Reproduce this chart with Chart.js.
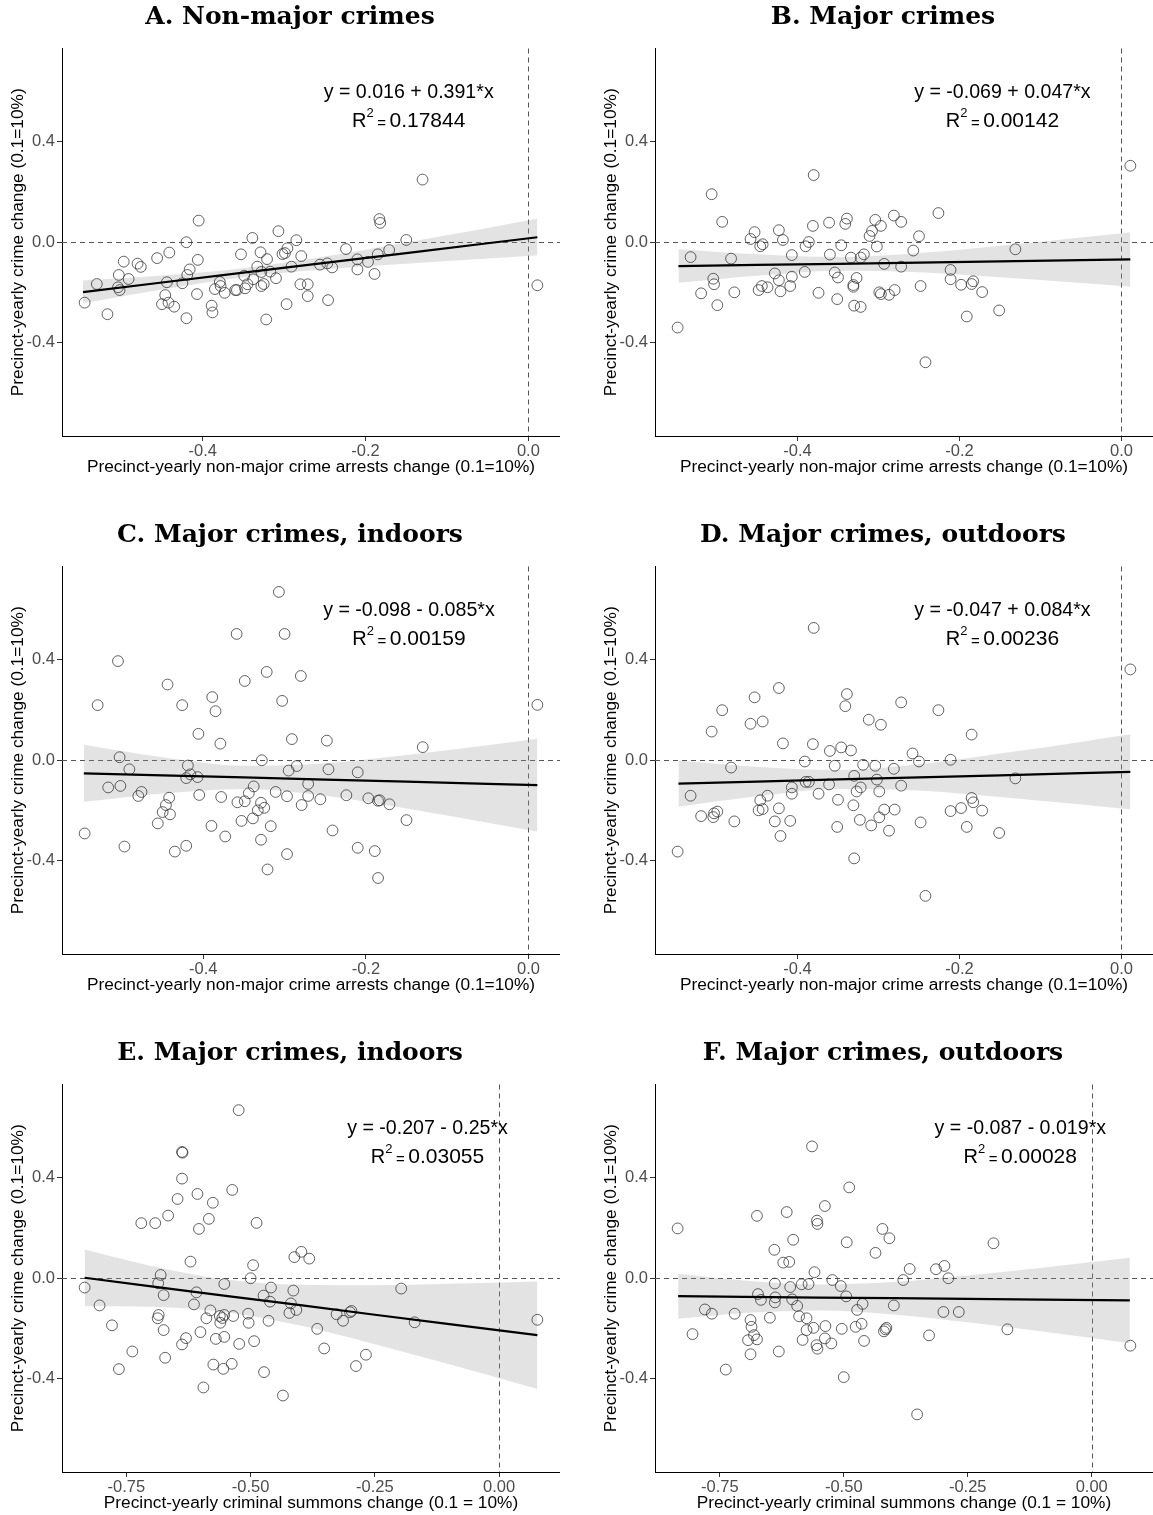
<!DOCTYPE html>
<html>
<head>
<meta charset="utf-8">
<script src="https://cdn.jsdelivr.net/npm/chart.js@4.4.1/dist/chart.umd.min.js"></script>
<style>
  html, body { margin:0; padding:0; background:#fff; width:1153px; height:1515px; overflow:hidden; position:relative; }
  canvas { position:absolute; }
</style>
</head>
<body>
<canvas id="cA" width="560" height="479" style="left:0px;top:0px"></canvas>
<canvas id="cB" width="560" height="479" style="left:593px;top:0px"></canvas>
<canvas id="cC" width="560" height="479" style="left:0px;top:518px"></canvas>
<canvas id="cD" width="560" height="479" style="left:593px;top:518px"></canvas>
<canvas id="cE" width="560" height="479" style="left:0px;top:1036px"></canvas>
<canvas id="cF" width="560" height="479" style="left:593px;top:1036px"></canvas>
<script>
// ---------------- DATA ----------------
const titles = ["A. Non-major crimes","B. Major crimes","C. Major crimes, indoors","D. Major crimes, outdoors","E. Major crimes, indoors","F. Major crimes, outdoors"];
const xTitleArrests = "Precinct-yearly non-major crime arrests change (0.1=10%)";
const xTitleSummons = "Precinct-yearly criminal summons change (0.1 = 10%)";
const yTitle = "Precinct-yearly crime change (0.1=10%)";

const yTicks = [-0.4, 0, 0.4];
const yTickLabels = ["-0.4", "0.0", "0.4"];
const xTicksArrests = [-0.4, -0.2, 0];
const xTickLabelsArrests = ["-0.4", "-0.2", "0.0"];
const xTicksSummons = [-0.75, -0.5, -0.25, 0];
const xTickLabelsSummons = ["-0.75", "-0.50", "-0.25", "0.00"];
const yLimits = [-0.77, 0.77];

const equations = ["y = 0.016 + 0.391*x","y = -0.069 + 0.047*x","y = -0.098 - 0.085*x","y = -0.047 + 0.084*x","y = -0.207 - 0.25*x","y = -0.087 - 0.019*x"];
const r2Values = ["0.17844","0.00142","0.00159","0.00236","0.03055","0.00028"];

// points [x, y]
const pointsA = [[-0.545,-0.240],[-0.530,-0.166],[-0.517,-0.286],[-0.504,-0.179],[-0.502,-0.190],[-0.503,-0.130],[-0.497,-0.077],[-0.491,-0.146],[-0.480,-0.085],[-0.476,-0.098],
[-0.456,-0.063],[-0.441,-0.041],[-0.446,-0.210],[-0.450,-0.246],[-0.442,-0.240],[-0.435,-0.256],[-0.444,-0.159],[-0.425,-0.163],[-0.420,-0.302],[-0.420,0.000],
[-0.419,-0.130],[-0.416,-0.108],[-0.406,-0.070],[-0.405,0.086],[-0.407,-0.206],[-0.389,-0.252],[-0.388,-0.279],[-0.385,-0.186],[-0.379,-0.158],[-0.378,-0.174],
[-0.373,-0.201],[-0.360,-0.190],[-0.358,-0.190],[-0.353,-0.048],[-0.349,-0.133],[-0.348,-0.183],[-0.345,-0.167],[-0.339,0.017],[-0.338,-0.147],[-0.333,-0.097],
[-0.329,-0.040],[-0.328,-0.118],[-0.328,-0.174],[-0.325,-0.166],[-0.322,-0.307],[-0.321,-0.067],[-0.317,-0.117],[-0.310,-0.143],[-0.307,0.044],[-0.302,-0.047],
[-0.299,-0.043],[-0.296,-0.024],[-0.297,-0.246],[-0.291,-0.097],[-0.285,0.008],[-0.280,-0.167],[-0.279,-0.055],[-0.271,-0.167],[-0.271,-0.214],[-0.256,-0.089],
[-0.247,-0.084],[-0.241,-0.100],[-0.246,-0.230],[-0.224,-0.027],[-0.210,-0.068],[-0.210,-0.108],[-0.197,-0.078],[-0.189,-0.126],[-0.185,-0.048],[-0.183,0.092],
[-0.182,0.077],[-0.171,-0.031],[-0.150,0.009],[-0.130,0.249],[0.011,-0.171]];

const pointsB = [[-0.548,-0.339],[-0.532,-0.059],[-0.506,0.191],[-0.504,-0.145],[-0.503,-0.167],[-0.519,-0.203],[-0.499,-0.250],[-0.493,0.081],[-0.482,-0.065],[-0.478,-0.199],
[-0.458,0.013],[-0.453,0.040],[-0.446,-0.016],[-0.443,-0.008],[-0.448,-0.190],[-0.444,-0.174],[-0.437,-0.179],[-0.428,-0.124],[-0.423,-0.151],[-0.421,-0.195],
[-0.423,0.048],[-0.418,0.009],[-0.409,-0.174],[-0.407,-0.137],[-0.407,-0.051],[-0.391,-0.118],[-0.390,-0.016],[-0.386,0.001],[-0.381,0.065],[-0.380,0.267],
[-0.374,-0.201],[-0.361,0.078],[-0.360,-0.049],[-0.354,-0.120],[-0.350,-0.140],[-0.351,-0.226],[-0.346,-0.012],[-0.341,0.073],[-0.339,0.094],[-0.334,-0.061],
[-0.331,-0.177],[-0.331,-0.170],[-0.327,-0.142],[-0.330,-0.252],[-0.322,-0.257],[-0.322,-0.061],[-0.318,-0.048],[-0.311,0.025],[-0.308,0.045],[-0.304,0.089],
[-0.302,-0.017],[-0.297,0.065],[-0.299,-0.199],[-0.297,-0.206],[-0.293,-0.086],[-0.287,-0.209],[-0.281,0.106],[-0.280,-0.190],[-0.272,0.081],[-0.272,-0.097],
[-0.250,0.024],[-0.257,-0.033],[-0.226,0.116],[-0.248,-0.174],[-0.211,-0.110],[-0.211,-0.147],[-0.198,-0.169],[-0.185,-0.166],[-0.183,-0.155],[-0.172,-0.198],
[-0.191,-0.295],[-0.151,-0.271],[-0.242,-0.477],[-0.131,-0.028],[0.011,0.304]];

const pointsC = [[-0.546,-0.291],[-0.530,0.219],[-0.517,-0.108],[-0.505,0.394],[-0.503,0.012],[-0.502,-0.102],[-0.497,-0.343],[-0.491,-0.036],[-0.480,-0.142],[-0.476,-0.126],
[-0.456,-0.251],[-0.450,-0.206],[-0.446,-0.178],[-0.442,-0.149],[-0.441,-0.215],[-0.444,0.301],[-0.435,-0.363],[-0.426,0.219],[-0.421,-0.340],[-0.419,-0.021],
[-0.421,-0.071],[-0.416,-0.056],[-0.407,-0.067],[-0.406,0.105],[-0.405,-0.138],[-0.389,0.251],[-0.385,0.195],[-0.390,-0.261],[-0.379,0.066],[-0.378,-0.146],
[-0.373,-0.303],[-0.359,0.502],[-0.358,-0.167],[-0.353,-0.241],[-0.349,-0.163],[-0.349,0.315],[-0.344,-0.131],[-0.339,-0.231],[-0.338,-0.104],[-0.333,-0.199],
[-0.329,-0.169],[-0.329,-0.316],[-0.328,0.000],[-0.325,-0.189],[-0.322,0.351],[-0.321,-0.434],[-0.317,-0.262],[-0.311,-0.126],[-0.307,0.669],[-0.303,0.236],
[-0.300,0.502],[-0.297,-0.143],[-0.297,-0.373],[-0.295,-0.041],[-0.291,0.084],[-0.285,-0.023],[-0.280,0.335],[-0.279,-0.178],[-0.271,-0.094],[-0.271,-0.142],
[-0.256,-0.155],[-0.248,0.078],[-0.246,-0.036],[-0.241,-0.279],[-0.224,-0.139],[-0.210,-0.048],[-0.210,-0.348],[-0.197,-0.151],[-0.189,-0.361],[-0.185,-0.161],
[-0.183,-0.159],[-0.185,-0.468],[-0.171,-0.175],[-0.150,-0.238],[-0.130,0.052],[0.011,0.220]];

const pointsD = [[-0.548,-0.363],[-0.532,-0.141],[-0.519,-0.222],[-0.506,0.114],[-0.504,-0.226],[-0.503,-0.211],[-0.499,-0.204],[-0.493,0.199],[-0.482,-0.029],[-0.478,-0.243],
[-0.458,0.145],[-0.453,0.250],[-0.446,-0.159],[-0.448,-0.199],[-0.443,-0.194],[-0.443,0.154],[-0.437,-0.141],[-0.428,-0.243],[-0.423,0.287],[-0.423,-0.191],
[-0.421,-0.301],[-0.418,0.067],[-0.409,-0.241],[-0.407,-0.108],[-0.407,-0.133],[-0.391,-0.005],[-0.390,-0.086],[-0.386,-0.086],[-0.381,0.064],[-0.380,0.526],
[-0.374,-0.133],[-0.361,-0.096],[-0.360,0.037],[-0.354,-0.022],[-0.350,-0.157],[-0.351,-0.265],[-0.346,0.051],[-0.341,0.215],[-0.339,0.263],[-0.334,0.039],
[-0.331,-0.179],[-0.330,-0.062],[-0.327,-0.124],[-0.322,-0.108],[-0.323,-0.237],[-0.330,-0.390],[-0.319,-0.018],[-0.312,0.161],[-0.309,-0.259],[-0.304,-0.022],
[-0.302,-0.077],[-0.299,-0.124],[-0.297,0.141],[-0.299,-0.227],[-0.293,-0.196],[-0.287,-0.280],[-0.281,-0.034],[-0.280,-0.196],[-0.272,0.230],[-0.272,-0.101],
[-0.258,0.027],[-0.250,-0.005],[-0.226,0.199],[-0.248,-0.247],[-0.211,0.002],[-0.211,-0.202],[-0.198,-0.190],[-0.185,-0.150],[-0.183,-0.167],[-0.172,-0.200],
[-0.191,-0.265],[-0.151,-0.289],[-0.185,0.102],[-0.242,-0.539],[-0.131,-0.072],[0.011,0.361]];

const pointsE = [[-0.834,-0.037],[-0.804,-0.108],[-0.779,-0.187],[-0.765,-0.361],[-0.738,-0.291],[-0.720,0.219],[-0.692,0.219],[-0.687,-0.159],[-0.685,-0.146],[-0.686,-0.020],
[-0.681,0.013],[-0.675,-0.067],[-0.675,-0.206],[-0.672,-0.316],[-0.666,0.249],[-0.647,0.315],[-0.638,0.502],[-0.637,0.499],[-0.638,0.396],[-0.638,-0.263],
[-0.630,-0.238],[-0.621,0.066],[-0.614,-0.104],[-0.609,-0.056],[-0.607,0.335],[-0.604,0.196],[-0.601,-0.214],[-0.595,-0.434],[-0.589,-0.159],[-0.584,0.236],
[-0.581,-0.128],[-0.576,0.300],[-0.575,-0.343],[-0.570,-0.241],[-0.562,-0.150],[-0.561,-0.177],[-0.557,-0.158],[-0.555,-0.360],[-0.553,-0.233],[-0.553,-0.023],
[-0.553,-0.146],[-0.537,0.351],[-0.538,-0.340],[-0.535,-0.150],[-0.524,0.668],[-0.523,-0.261],[-0.505,-0.141],[-0.504,-0.177],[-0.500,0.000],[-0.495,0.052],
[-0.493,-0.250],[-0.488,0.220],[-0.474,-0.069],[-0.473,-0.373],[-0.464,-0.169],[-0.461,-0.093],[-0.459,-0.037],[-0.435,-0.466],[-0.422,-0.138],[-0.419,-0.100],
[-0.414,-0.049],[-0.412,0.084],[-0.408,-0.126],[-0.398,0.105],[-0.382,0.078],[-0.366,-0.201],[-0.352,-0.279],[-0.327,-0.143],[-0.314,-0.169],[-0.300,-0.135],
[-0.297,-0.130],[-0.288,-0.349],[-0.268,-0.304],[-0.197,-0.041],[-0.170,-0.175],[0.077,-0.165]];

const pointsF = [[-0.835,0.198],[-0.805,-0.222],[-0.780,-0.124],[-0.766,-0.141],[-0.738,-0.363],[-0.720,-0.141],[-0.688,-0.166],[-0.686,-0.193],[-0.693,-0.246],[-0.681,-0.226],
[-0.675,-0.243],[-0.688,-0.302],[-0.675,0.248],[-0.673,-0.063],[-0.667,-0.086],[-0.649,-0.157],[-0.640,0.113],[-0.639,-0.021],[-0.638,-0.076],[-0.639,-0.096],
[-0.631,-0.291],[-0.622,0.062],[-0.610,0.065],[-0.615,0.263],[-0.608,-0.035],[-0.604,-0.084],[-0.602,0.153],[-0.594,-0.110],[-0.590,-0.151],[-0.583,-0.245],
[-0.575,-0.206],[-0.575,-0.159],[-0.585,-0.024],[-0.571,-0.023],[-0.564,0.524],[-0.561,-0.197],[-0.559,0.024],[-0.555,-0.266],[-0.554,0.229],[-0.553,0.216],
[-0.553,-0.280],[-0.538,0.287],[-0.537,-0.190],[-0.538,-0.239],[-0.525,-0.259],[-0.523,-0.007],[-0.506,-0.031],[-0.504,-0.201],[-0.500,-0.393],[-0.495,-0.072],
[-0.494,0.143],[-0.489,0.361],[-0.476,-0.193],[-0.473,-0.126],[-0.464,-0.181],[-0.462,-0.102],[-0.459,-0.249],[-0.436,0.101],[-0.422,0.196],[-0.419,-0.211],
[-0.416,-0.203],[-0.414,-0.197],[-0.408,0.159],[-0.399,-0.108],[-0.380,-0.007],[-0.367,0.037],[-0.314,0.036],[-0.297,0.049],[-0.289,0.000],[-0.299,-0.134],
[-0.268,-0.134],[-0.328,-0.227],[-0.198,0.139],[-0.170,-0.203],[-0.352,-0.541],[0.078,-0.268]];

// fitted line and confidence band, read at a few x positions
const bandXArrests = [-0.547, -0.45, -0.35, -0.25, -0.15, -0.05, 0.011];
const bandXSummons = [-0.834, -0.70, -0.55, -0.40, -0.25, -0.10, 0.077];

const fitA = [-0.198,-0.160,-0.121,-0.082,-0.043,-0.004,0.020];
const lowA = [-0.242,-0.188,-0.139,-0.107,-0.085,-0.065,-0.052];
const highA = [-0.152,-0.132,-0.103,-0.057,-0.001,0.057,0.093];

const fitB = [-0.095,-0.090,-0.086,-0.081,-0.076,-0.071,-0.068];
const lowB = [-0.161,-0.133,-0.113,-0.119,-0.139,-0.162,-0.177];
const highB = [-0.028,-0.048,-0.059,-0.043,-0.014,0.019,0.040];

const fitC = [-0.052,-0.060,-0.068,-0.077,-0.085,-0.094,-0.099];
const lowC = [-0.165,-0.132,-0.114,-0.141,-0.192,-0.248,-0.283];
const highC = [0.062,0.012,-0.022,-0.012,0.021,0.060,0.085];

const fitD = [-0.093,-0.085,-0.076,-0.068,-0.060,-0.051,-0.046];
const lowD = [-0.185,-0.143,-0.114,-0.120,-0.146,-0.176,-0.195];
const highD = [-0.001,-0.026,-0.039,-0.016,0.027,0.073,0.103];

const fitE = [0.002,-0.032,-0.070,-0.107,-0.145,-0.182,-0.226];
const lowE = [-0.111,-0.113,-0.135,-0.188,-0.262,-0.342,-0.440];
const highE = [0.114,0.049,-0.005,-0.026,-0.028,-0.022,-0.013];

const fitF = [-0.071,-0.074,-0.077,-0.079,-0.082,-0.085,-0.088];
const lowF = [-0.161,-0.138,-0.128,-0.144,-0.175,-0.212,-0.258];
const highF = [0.018,-0.009,-0.025,-0.015,0.011,0.042,0.081];

// annotation anchor (data units)
const eqAnchorArrests = [-0.147, 0.595, 0.488];
const eqAnchorSummons = [-0.144, 0.595, 0.488];

// ---------------- RENDERING ----------------
Chart.defaults.font.family = '"Liberation Sans", Arial, sans-serif';

const deco = {
  id: 'deco',
  beforeDatasetsDraw(chart, args, o) {
    const {ctx, chartArea: ca, scales: {x, y}} = chart;
    ctx.save();
    ctx.strokeStyle = '#555';
    ctx.lineWidth = 1;
    ctx.setLineDash([5, 4]);
    const y0 = Math.round(y.getPixelForValue(0)) + 0.5;
    ctx.beginPath(); ctx.moveTo(ca.left, y0); ctx.lineTo(ca.right, y0); ctx.stroke();
    const x0 = Math.round(x.getPixelForValue(0)) + 0.5;
    ctx.beginPath(); ctx.moveTo(x0, ca.top); ctx.lineTo(x0, ca.bottom); ctx.stroke();
    ctx.restore();
  },
  afterDatasetsDraw(chart, args, o) {
    const {ctx, scales: {x, y}} = chart;
    const cx = x.getPixelForValue(o.anchor[0]);
    const y1 = y.getPixelForValue(o.anchor[1]);
    const y2 = y.getPixelForValue(o.anchor[2]);
    const fm = '19.6px "Liberation Sans"', fr = '20px "Liberation Sans"', fv = '21px "Liberation Sans"',
          fs = '13px "Liberation Sans"', fe = '15px "Liberation Sans"';
    ctx.save();
    ctx.fillStyle = '#000';
    ctx.font = fm; ctx.textAlign = 'center'; ctx.textBaseline = 'middle';
    ctx.fillText(o.eq, cx, y1);
    ctx.textAlign = 'left'; ctx.textBaseline = 'alphabetic';
    ctx.font = fr; const wR = ctx.measureText('R').width;
    ctx.font = fv; const wV = ctx.measureText(o.r2).width;
    ctx.font = fs; const w2 = ctx.measureText('2').width;
    ctx.font = fe; const wEq = ctx.measureText('=').width;
    const g1 = 3.5, g2 = 3.5;
    const total = wR + w2 + g1 + wEq + g2 + wV;
    let xx = cx - total / 2;
    const base = y2 + 7.5;
    ctx.font = fr; ctx.fillText('R', xx, base); xx += wR;
    ctx.font = fs; ctx.fillText('2', xx, base - 10); xx += w2 + g1;
    ctx.font = fe; ctx.fillText('=', xx, base + 1); xx += wEq + g2;
    ctx.font = fv; ctx.fillText(o.r2, xx, base);
    ctx.restore();
  },
  afterDraw(chart, args, o) {
    const {ctx} = chart;
    ctx.save();
    ctx.fillStyle = '#000';
    ctx.font = 'bold 25px "DejaVu Serif", serif';
    ctx.textAlign = 'center'; ctx.textBaseline = 'middle';
    ctx.fillText(o.title, 290, 17);
    ctx.restore();
  }
};

function panel(id, idx, pts, bandX, fit, low, high, xTicks, xLabels, xTitle, anchor) {
  const xsv = pts.map(p => p[0]);
  const xmin = Math.min(...xsv), xmax = Math.max(...xsv);
  const xpad = (xmax - xmin) * 0.05;
  const tickColor = '#4d4d4d';
  new Chart(document.getElementById(id), {
    type: 'scatter',
    data: {
      datasets: [
        { type: 'line', data: bandX.map((v, i) => ({x: v, y: fit[i]})), borderColor: '#000', borderWidth: 2.2,
          pointRadius: 0, fill: false, order: 0 },
        { type: 'scatter', data: pts.map(p => ({x: p[0], y: p[1]})), pointRadius: 5.4, pointBorderWidth: 0.8,
          pointBorderColor: '#3a3a3a', pointBackgroundColor: 'rgba(0,0,0,0)', borderColor: '#3a3a3a',
          backgroundColor: 'rgba(0,0,0,0)', order: 1 },
        { type: 'line', data: bandX.map((v, i) => ({x: v, y: high[i]})), borderWidth: 0, borderColor: 'rgba(0,0,0,0)',
          pointRadius: 0, fill: '+1', backgroundColor: 'rgba(153,153,153,0.27)', cubicInterpolationMode: 'monotone', order: 2 },
        { type: 'line', data: bandX.map((v, i) => ({x: v, y: low[i]})), borderWidth: 0, borderColor: 'rgba(0,0,0,0)',
          pointRadius: 0, fill: false, cubicInterpolationMode: 'monotone', order: 3 }
      ]
    },
    options: {
      responsive: false, animation: false, events: [],
      layout: { autoPadding: false, padding: { left: 0, right: 0, top: 48.5, bottom: 0 } },
      plugins: {
        legend: { display: false }, tooltip: { enabled: false },
        deco: { title: titles[idx], eq: equations[idx], r2: r2Values[idx], anchor: anchor }
      },
      scales: {
        x: {
          type: 'linear', position: 'bottom', min: xmin - xpad, max: xmax + xpad,
          afterBuildTicks: s => { s.ticks = xTicks.map(v => ({value: v})); },
          afterFit: s => { s.height = 43; s.paddingLeft = 0; s.paddingRight = 0; },
          ticks: { callback: (v) => { const k = xTicks.findIndex(t => Math.abs(t - v) < 1e-9); return k >= 0 ? xLabels[k] : ''; },
                   color: tickColor, font: { size: 16.5 }, padding: 1, maxRotation: 0, autoSkip: false },
          grid: { display: true, drawOnChartArea: false, drawTicks: true, tickLength: 5, color: '#333', lineWidth: 1 },
          border: { display: true, color: '#000', width: 1 },
          title: { display: true, text: xTitle, color: '#000', font: { size: 17.3 }, padding: { top: 0, bottom: 1.6 } }
        },
        y: {
          type: 'linear', position: 'left', min: yLimits[0], max: yLimits[1],
          afterBuildTicks: s => { s.ticks = yTicks.map(v => ({value: v})); },
          afterFit: s => { s.width = 62; s.paddingTop = 0; s.paddingBottom = 0; },
          ticks: { callback: (v) => { const k = yTicks.findIndex(t => Math.abs(t - v) < 1e-9); return k >= 0 ? yTickLabels[k] : ''; },
                   color: tickColor, font: { size: 16.5 }, padding: 2, autoSkip: false },
          grid: { display: true, drawOnChartArea: false, drawTicks: true, tickLength: 5, color: '#333', lineWidth: 1 },
          border: { display: true, color: '#000', width: 1 },
          title: { display: true, text: yTitle, color: '#000', font: { size: 17.3 }, padding: { top: 7.6, bottom: 0 } }
        }
      }
    },
    plugins: [deco]
  });
}

panel('cA', 0, pointsA, bandXArrests, fitA, lowA, highA, xTicksArrests, xTickLabelsArrests, xTitleArrests, eqAnchorArrests);
panel('cB', 1, pointsB, bandXArrests, fitB, lowB, highB, xTicksArrests, xTickLabelsArrests, xTitleArrests, eqAnchorArrests);
panel('cC', 2, pointsC, bandXArrests, fitC, lowC, highC, xTicksArrests, xTickLabelsArrests, xTitleArrests, eqAnchorArrests);
panel('cD', 3, pointsD, bandXArrests, fitD, lowD, highD, xTicksArrests, xTickLabelsArrests, xTitleArrests, eqAnchorArrests);
panel('cE', 4, pointsE, bandXSummons, fitE, lowE, highE, xTicksSummons, xTickLabelsSummons, xTitleSummons, eqAnchorSummons);
panel('cF', 5, pointsF, bandXSummons, fitF, lowF, highF, xTicksSummons, xTickLabelsSummons, xTitleSummons, eqAnchorSummons);
</script>
</body>
</html>
